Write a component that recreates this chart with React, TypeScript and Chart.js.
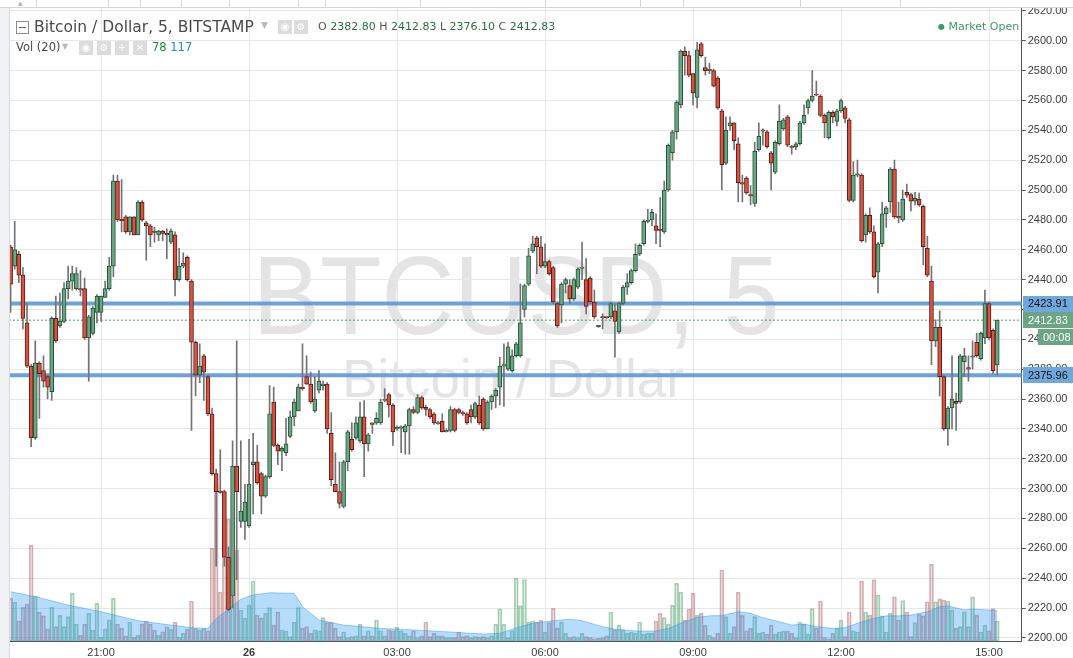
import React, { useEffect, useRef } from "react";
import { Chart, registerables } from "chart.js";

Chart.register(...registerables);

// ---------------- data ----------------
// 5-minute bars, index 0 = 19:10, index 240 = 15:10 (next day)
const OPEN = [
  2462, 2449, 2457, 2443, 2411, 2382, 2334, 2384, 2379, 2375,
  2365, 2414, 2409, 2412, 2434, 2439, 2434, 2434, 2434, 2401,
  2404, 2418, 2418, 2428, 2434, 2449, 2506, 2480, 2482, 2472,
  2482, 2470, 2492, 2478, 2476, 2472.5, 2470, 2472.5, 2471, 2465,
  2470, 2440, 2449, 2455, 2439, 2398, 2376, 2389, 2375, 2350,
  2310, 2298, 2298, 2254, 2228, 2315, 2278, 2278, 2275, 2316,
  2318, 2310, 2295, 2308, 2358, 2329, 2325, 2324, 2335, 2348,
  2352, 2368, 2375, 2370, 2352, 2366, 2369, 2370, 2337, 2303,
  2298, 2288, 2318, 2333, 2334, 2332, 2348, 2330, 2344, 2344,
  2344, 2359, 2363, 2356, 2340, 2340.5, 2338, 2342, 2353, 2351,
  2361, 2354.5, 2353, 2350, 2343.5, 2345, 2338, 2339, 2353, 2353,
  2351, 2350, 2353, 2348, 2356, 2360, 2340, 2358, 2362, 2368,
  2382, 2380, 2379, 2389, 2389, 2420, 2437, 2459, 2468, 2462,
  2449, 2452, 2448, 2424, 2423, 2437, 2436, 2427, 2435, 2447.5,
  2440, 2441, 2425, 2408.5, 2415, 2415, 2415, 2419, 2405, 2424,
  2435, 2438, 2446, 2457, 2464, 2479, 2480, 2476, 2473.5, 2472,
  2500, 2525, 2539, 2557, 2593, 2590, 2578, 2562, 2598, 2582,
  2580, 2580, 2575, 2553, 2518, 2543, 2545, 2531, 2505, 2508,
  2497, 2491, 2527, 2539.5, 2539, 2525, 2512, 2531, 2541, 2549,
  2529, 2529, 2531, 2545, 2555, 2560, 2564, 2563, 2550, 2535,
  2552, 2546, 2553, 2555, 2547, 2493, 2510, 2510, 2470, 2483,
  2472, 2445, 2464, 2484, 2492, 2514, 2482, 2480, 2498.5, 2497,
  2492.5, 2494, 2489, 2461, 2439, 2399, 2408, 2375, 2340, 2354,
  2358.5, 2358, 2385, 2381, 2388, 2398, 2387, 2401, 2424, 2406,
  2382.8,
];
const HIGH = [
  2463, 2479, 2459, 2448, 2424, 2383, 2399, 2385, 2389, 2376,
  2415, 2429, 2431, 2438, 2449, 2449, 2448, 2446, 2441, 2416,
  2422, 2430, 2429, 2439, 2455, 2510, 2510, 2507, 2483, 2482,
  2482, 2493, 2493, 2479, 2477, 2475, 2473, 2473, 2474, 2474,
  2472, 2461, 2458, 2456, 2440, 2399, 2397, 2390, 2376, 2354,
  2313, 2326, 2299, 2261, 2332, 2399, 2332, 2303, 2333, 2337,
  2329, 2311, 2309, 2369, 2368, 2330, 2328, 2347, 2352, 2360,
  2370, 2397, 2389, 2378, 2375, 2379, 2372, 2371, 2351, 2324,
  2318, 2319, 2339, 2344, 2348, 2358, 2359, 2337, 2344, 2351,
  2360, 2367, 2364, 2357, 2342, 2342, 2343, 2354, 2355, 2363,
  2362, 2356, 2354, 2351, 2345, 2350, 2340, 2355, 2354, 2354,
  2352, 2351, 2356, 2358, 2362, 2361, 2359, 2363, 2367, 2388,
  2397, 2398, 2393, 2398, 2437, 2437, 2461, 2469, 2469, 2469,
  2464, 2453, 2449, 2425, 2438, 2441, 2440, 2441, 2448, 2465,
  2454, 2442, 2433, 2409, 2417, 2415, 2425, 2424, 2425, 2436,
  2444, 2447, 2464, 2464, 2480, 2487, 2487, 2484, 2495, 2506,
  2531, 2540, 2560, 2594, 2596, 2593, 2578, 2599, 2599, 2589,
  2585, 2581, 2576, 2554, 2549, 2549, 2545, 2535, 2510, 2509,
  2503, 2532, 2545, 2541, 2540, 2526, 2533, 2557, 2548, 2550,
  2530, 2532, 2546, 2557, 2561, 2580, 2573, 2564, 2551, 2553,
  2553, 2554, 2561, 2556, 2548, 2519, 2520, 2511, 2484, 2488,
  2476, 2465, 2492, 2489, 2515, 2520, 2492, 2500, 2504, 2498,
  2498.5, 2498, 2490, 2469, 2449, 2413, 2419, 2376, 2355, 2389,
  2364, 2390, 2394, 2389, 2399, 2404, 2405, 2433, 2425, 2407,
  2412.83,
];
const LOW = [
  2418, 2447, 2438, 2407, 2381, 2328, 2333, 2347, 2368, 2360,
  2359, 2398, 2408, 2411, 2427, 2433, 2433, 2429, 2400, 2372,
  2403, 2411, 2412, 2428, 2433, 2442, 2479, 2472, 2471, 2470,
  2470, 2470, 2479, 2453, 2462, 2465, 2466, 2466, 2454, 2464,
  2429, 2439, 2448, 2439, 2339, 2362, 2371, 2359, 2349, 2309,
  2248, 2297, 2248, 2218, 2220, 2239, 2274, 2266, 2274, 2283,
  2303, 2283, 2294, 2307, 2328, 2316, 2312, 2322, 2334, 2342,
  2352, 2366, 2370, 2357, 2351, 2364, 2366, 2337, 2302, 2298,
  2287, 2287, 2312, 2325, 2333, 2331, 2308, 2325, 2337, 2343,
  2343, 2358, 2348, 2329, 2339, 2324, 2323, 2323, 2350, 2350,
  2353, 2349, 2347, 2343, 2343, 2338, 2338, 2338, 2338, 2350,
  2349, 2343, 2344, 2347, 2343, 2339, 2340, 2353, 2354, 2356,
  2355, 2379, 2378, 2388, 2388, 2415, 2436, 2458, 2444, 2448,
  2448, 2443, 2424, 2408, 2411, 2431, 2424, 2426, 2434, 2440,
  2417, 2424, 2414, 2408, 2407, 2414, 2414, 2388, 2404, 2423,
  2430, 2437, 2445, 2456, 2463, 2478, 2476, 2464, 2462, 2471,
  2499, 2520, 2534, 2555, 2577, 2576, 2557, 2555, 2589, 2577,
  2578, 2569, 2554, 2500, 2517, 2540, 2527, 2492, 2492, 2497,
  2490, 2489, 2526, 2530, 2528, 2500, 2511, 2530, 2540, 2529,
  2524, 2527, 2530, 2544, 2551, 2559, 2563, 2549, 2535, 2534,
  2545, 2543, 2552, 2545, 2492, 2492, 2509, 2465, 2465, 2471,
  2441, 2431, 2462, 2475, 2485, 2481, 2478, 2479, 2495, 2486,
  2490, 2489, 2450, 2442, 2383, 2395, 2362, 2339, 2329, 2340,
  2339, 2357, 2375, 2372, 2380, 2388, 2386, 2397, 2400, 2377,
  2376.1,
];
const CLOSE = [
  2437, 2460, 2443, 2414, 2382, 2334, 2384, 2377, 2372, 2368,
  2414, 2399, 2412, 2434, 2439, 2444, 2444, 2433, 2401, 2415,
  2421, 2429, 2429, 2434, 2449, 2506, 2480, 2479.5, 2472, 2482,
  2470, 2492, 2480, 2476, 2470, 2471.6, 2472.5, 2471, 2470, 2472.5,
  2440, 2449, 2451, 2440, 2398, 2376, 2382, 2378, 2350, 2310,
  2298, 2297.5, 2254, 2219, 2315, 2298, 2285, 2291, 2303, 2318,
  2304, 2295, 2308, 2350, 2329, 2325, 2327, 2330, 2348, 2358,
  2368, 2367, 2370, 2358, 2360, 2372, 2370, 2340, 2306, 2298,
  2290, 2318, 2338, 2326, 2344, 2348, 2330, 2336, 2343, 2347,
  2358, 2359.5, 2356, 2338, 2341, 2341, 2342, 2353, 2351, 2361,
  2354, 2353, 2348, 2344, 2344, 2338, 2339, 2353, 2339, 2351,
  2350, 2344, 2348, 2357, 2344, 2340, 2358, 2362, 2366, 2382,
  2383, 2395, 2389, 2397, 2411, 2436, 2456, 2464, 2462, 2449,
  2452, 2444, 2425, 2409, 2437, 2440, 2427, 2440, 2447, 2448.2,
  2422, 2425, 2415, 2409, 2414.5, 2414.5, 2424, 2412, 2424, 2435,
  2438, 2446, 2457, 2463, 2479, 2479.7, 2485, 2473, 2473, 2500,
  2530, 2539, 2559, 2593, 2590, 2577, 2565, 2594, 2590, 2580,
  2580.5, 2569.5, 2555, 2517, 2540, 2545, 2533, 2505, 2504, 2498,
  2496, 2526, 2536, 2540, 2529, 2518, 2532, 2546, 2547, 2530,
  2528.5, 2531, 2545, 2550, 2560, 2563, 2563.5, 2550, 2545, 2552,
  2549, 2553, 2560, 2548, 2493, 2510, 2510.5, 2466, 2483, 2472,
  2442, 2464, 2484, 2488, 2514, 2482, 2481.5, 2494, 2496.5, 2492.5,
  2494.5, 2490, 2462, 2443, 2399, 2408, 2375, 2340, 2354, 2360,
  2357, 2389, 2389, 2380, 2389, 2389, 2404, 2424, 2401, 2379,
  2412.83,
];
const VOLUME = [
  166, 151, 78, 131, 144, 374, 175, 112, 98, 47,
  131, 56, 100, 56, 95, 186, 66, 22, 65, 108,
  43, 147, 14, 47, 82, 166, 65, 49, 20, 73,
  14, 22, 66, 78, 66, 43, 22, 36, 55, 46,
  73, 14, 30, 46, 156, 48, 43, 48, 40, 362,
  612, 191, 476, 476, 170, 355, 120, 90, 140, 234,
  101, 90, 108, 130, 62, 113, 44, 39, 17, 73,
  130, 49, 56, 30, 44, 40, 91, 72, 72, 49,
  17, 35, 13, 17, 20, 65, 20, 40, 20, 82,
  40, 20, 44, 40, 53, 40, 30, 20, 40, 13,
  20, 74, 17, 30, 20, 20, 13, 13, 13, 36,
  17, 20, 13, 17, 15, 17, 13, 20, 65, 125,
  65, 13, 40, 245, 137, 240, 74, 78, 74, 82,
  35, 72, 127, 49, 74, 30, 13, 17, 13, 30,
  17, 13, 8, 10, 13, 20, 113, 44, 62, 44,
  30, 35, 30, 74, 27, 30, 30, 78, 108, 91,
  65, 140, 225, 190, 82, 125, 186, 101, 108, 62,
  22, 13, 30, 277, 95, 30, 56, 190, 101, 40,
  49, 95, 30, 35, 27, 62, 27, 35, 39, 39,
  30, 13, 74, 65, 27, 126, 49, 156, 13, 8,
  30, 49, 82, 17, 113, 40, 35, 234, 113, 101,
  240, 179, 98, 35, 108, 172, 82, 158, 113, 17,
  72, 104, 98, 153, 300, 153, 164, 160, 156, 121,
  49, 56, 114, 56, 172, 101, 35, 62, 40, 126,
  78,
];
// Vol (20) moving-average outline, read at these bar indices
const MA_IDX = [
  0, 6, 14, 22, 31, 39, 44, 48, 50, 53, 56, 59, 63, 69, 71, 75, 81, 90, 98, 106,
  115, 119, 124, 127, 132, 136, 139, 144, 147, 152, 157, 160, 164, 167, 170, 173, 177, 180, 183, 187,
  190, 193, 196, 200, 203, 206, 210, 213, 216, 219, 223, 226, 228, 232, 234, 238, 240,
];
const MA_VAL = [
  192, 173, 140, 114, 79, 62, 52, 49, 88, 124, 163, 179, 188, 186, 134, 82, 62, 49, 43, 36,
  27, 30, 56, 69, 79, 85, 79, 56, 46, 39, 39, 49, 75, 92, 98, 99, 114, 108, 91, 75,
  62, 66, 56, 49, 52, 69, 88, 98, 98, 101, 114, 134, 137, 121, 124, 121, 117,
];
const TIME_TICK_IDX = [22, 58, 94, 130, 166, 202, 238];
const TIME_TICK_LABELS = ["21:00", "26", "03:00", "06:00", "09:00", "12:00", "15:00"];
const PRICE_TICKS = [
  2200, 2220, 2240, 2260, 2280, 2300, 2320, 2340, 2360, 2380, 2400,
  2420, 2440, 2460, 2480, 2500, 2520, 2540, 2560, 2580, 2600, 2620,
];
const LEVEL_UPPER = 2423.91;
const LEVEL_LOWER = 2375.96;
const LAST_PRICE = 2412.83;
const COUNTDOWN = "00:08";
const TITLE = "Bitcoin / Dollar, 5, BITSTAMP";
const OHLC_LABELS = ["O", "H", "L", "C"];
const OHLC_VALUES = ["2382.80", "2412.83", "2376.10", "2412.83"];
const VOL_LABEL = "Vol (20)";
const VOL_LAST = "78";
const VOL_MA = "117";
const WATERMARK_1 = "BTCUSD, 5";
const WATERMARK_2 = "Bitcoin / Dollar";
const MARKET_STATUS = "Market Open";

// ---------------- view settings ----------------
const X_MIN = -0.39;
const X_MAX = 245.95;
const Y_MIN = 2197.9;
const Y_MAX = 2627.3;
const VOL_MAX = 2500;

const UP_FILL = "#6ba583";
const DOWN_FILL = "#d75442";
const UP_BORDER = "#225437";
const DOWN_BORDER = "#5b1a13";
const WICK = "#737375";
const AXIS_FONT = '"Liberation Sans", Arial, sans-serif';
const UI_FONT = '"DejaVu Sans", Verdana, sans-serif';
const TOP_SEPARATORS = [36, 108, 140, 181, 229, 298, 325, 420, 545, 640, 683, 800, 900];

const priceLabels = {
  id: "priceLabels",
  afterDraw(chart: any) {
    const { ctx, chartArea } = chart;
    const y = chart.scales.y;
    const x0 = Math.round(chartArea.right) + 1;
    const w = chart.width - x0;
    const box = (val: number, text: string, bg: string, fg: string, dx = 0, dy = 0, bw = w) => {
      const yc = y.getPixelForValue(val) + dy;
      ctx.save();
      ctx.fillStyle = bg;
      ctx.fillRect(x0 + dx, Math.round(yc - 8), bw, 16);
      ctx.fillStyle = fg;
      ctx.font = `11px ${AXIS_FONT}`;
      ctx.textBaseline = "middle";
      ctx.textAlign = "left";
      ctx.fillText(text, x0 + dx + 5, yc + 0.5);
      ctx.restore();
    };
    box(LEVEL_UPPER, LEVEL_UPPER.toFixed(2), "#6fa8dc", "#111", 0);
    box(LEVEL_LOWER, LEVEL_LOWER.toFixed(2), "#6fa8dc", "#111", 0);
    box(LAST_PRICE, LAST_PRICE.toFixed(2), UP_FILL, "#fff", 0);
    box(LAST_PRICE, COUNTDOWN, UP_FILL, "#fff", 15, 17, 35);
  },
};

export default function App() {
  const ref = useRef<HTMLCanvasElement>(null);

  useEffect(() => {
    document.body.style.margin = "0";
    const canvas = ref.current;
    if (!canvas) return;
    const idx = OPEN.map((_, i) => i);
    const up = (i: number) => CLOSE[i] >= OPEN[i];
    const bodies = idx.map((i) => {
      const lo = Math.min(OPEN[i], CLOSE[i]);
      let hi = Math.max(OPEN[i], CLOSE[i]);
      if (hi - lo < 0.8) hi = lo + 0.8;
      return { x: i, y: [lo, hi] };
    });
    const wicks = idx.map((i) => ({ x: i, y: [LOW[i], HIGH[i]] }));
    const vols = idx.map((i) => ({ x: i, y: VOLUME[i] }));
    const ma = MA_IDX.map((x, k) => ({ x, y: MA_VAL[k] }));
    const hline = (v: number) => [
      { x: X_MIN - 1, y: v },
      { x: X_MAX + 1, y: v },
    ];

    const chart = new Chart(canvas, {
      type: "bar",
      data: {
        datasets: [
          {
            type: "bar",
            data: bodies as any,
            backgroundColor: idx.map((i) => (up(i) ? UP_FILL : DOWN_FILL)),
            borderColor: idx.map((i) => (up(i) ? UP_BORDER : DOWN_BORDER)),
            borderWidth: 1,
            borderSkipped: false,
            barThickness: 4,
            grouped: false,
            order: 0,
            yAxisID: "y",
          } as any,
          {
            type: "bar",
            data: wicks as any,
            backgroundColor: WICK,
            borderWidth: 0,
            barThickness: 1,
            grouped: false,
            order: 1,
            yAxisID: "y",
          } as any,
          {
            type: "line",
            data: hline(LEVEL_UPPER),
            borderColor: "rgba(92,152,216,0.9)",
            borderWidth: 4,
            pointRadius: 0,
            order: 2,
            yAxisID: "y",
          } as any,
          {
            type: "line",
            data: hline(LEVEL_LOWER),
            borderColor: "rgba(92,152,216,0.9)",
            borderWidth: 4,
            pointRadius: 0,
            order: 3,
            yAxisID: "y",
          } as any,
          {
            type: "line",
            data: hline(LAST_PRICE),
            borderColor: "#3f9c5f",
            borderWidth: 1,
            borderDash: [2, 2],
            pointRadius: 0,
            order: 4,
            yAxisID: "y",
          } as any,
          {
            type: "line",
            data: ma,
            yAxisID: "yv",
            borderColor: "rgba(33,150,243,0.45)",
            backgroundColor: "rgba(33,150,243,0.33)",
            borderWidth: 1,
            pointRadius: 0,
            fill: "origin",
            tension: 0,
            order: 6,
          } as any,
          {
            type: "bar",
            data: vols as any,
            yAxisID: "yv",
            backgroundColor: idx.map((i) => (up(i) ? "rgba(107,185,131,0.25)" : "rgba(196,120,120,0.25)")),
            borderColor: idx.map((i) => (up(i) ? "rgba(90,160,110,0.5)" : "rgba(170,110,110,0.5)")),
            borderWidth: 1,
            borderSkipped: false,
            barThickness: 4,
            grouped: false,
            order: 7,
          } as any,
        ],
      },
      options: {
        animation: false,
        responsive: true,
        maintainAspectRatio: false,
        events: [],
        layout: { padding: { left: 9, top: 0, right: 0, bottom: 0 } },
        plugins: { legend: { display: false }, tooltip: { enabled: false } },
        scales: {
          x: {
            type: "linear",
            min: X_MIN,
            max: X_MAX,
            offset: false,
            grid: { color: "#e8e8e8", drawTicks: false, offset: false },
            border: { color: "#555", width: 1 },
            ticks: {
              autoSkip: false,
              maxRotation: 0,
              padding: 5,
              color: "#3c3c3c",
              font: (c: any) => ({
                family: AXIS_FONT,
                size: 11,
                weight: c.tick && c.tick.value === TIME_TICK_IDX[1] ? "bold" : "normal",
              }),
              callback: (v: any) => {
                const k = TIME_TICK_IDX.indexOf(Number(v));
                return k >= 0 ? TIME_TICK_LABELS[k] : "";
              },
            },
            afterBuildTicks: (s: any) => {
              s.ticks = TIME_TICK_IDX.map((value) => ({ value }));
            },
            afterFit: (s: any) => {
              s.height = 17;
              s.paddingLeft = 0;
              s.paddingRight = 0;
            },
          } as any,
          y: {
            type: "linear",
            position: "right",
            min: Y_MIN,
            max: Y_MAX,
            grid: { color: "#e8e8e8", tickColor: "#555", tickLength: 4 },
            border: { color: "#555", width: 1 },
            ticks: {
              padding: 2,
              color: "#3c3c3c",
              font: { family: AXIS_FONT, size: 11 },
              callback: (v: any) => Number(v).toFixed(2),
            },
            afterBuildTicks: (s: any) => {
              s.ticks = PRICE_TICKS.map((value) => ({ value }));
            },
            afterFit: (s: any) => {
              s.width = 51.3;
              s.paddingTop = 0;
              s.paddingBottom = 0;
            },
          } as any,
          yv: {
            type: "linear",
            display: false,
            min: 0,
            max: VOL_MAX,
          },
        },
      },
      plugins: [priceLabels],
    });
    return () => chart.destroy();
  }, []);

  const iconBox = (left: number, top: number, glyph: string) => (
    <div
      key={left}
      style={{
        position: "absolute",
        left,
        top,
        width: 14,
        height: 14,
        background: "#dcdcdc",
        color: "#fff",
        fontSize: 10,
        lineHeight: "14px",
        textAlign: "center",
        fontFamily: UI_FONT,
      }}
    >
      {glyph}
    </div>
  );

  return (
    <div
      style={{
        position: "fixed",
        left: 0,
        top: 0,
        width: 1073,
        height: 658,
        background: "#fff",
        overflow: "hidden",
        fontFamily: UI_FONT,
      }}
    >
      {/* watermark */}
      <div
        style={{
          position: "absolute",
          left: 116,
          top: 240,
          width: 800,
          textAlign: "center",
          fontFamily: AXIS_FONT,
          fontSize: 112,
          lineHeight: "112px",
          color: "#e4e4e4",
          transform: "scaleX(0.9)",
          whiteSpace: "nowrap",
        }}
      >
        {WATERMARK_1}
      </div>
      <div
        style={{
          position: "absolute",
          left: 113,
          top: 352,
          width: 800,
          textAlign: "center",
          fontFamily: AXIS_FONT,
          fontSize: 53,
          lineHeight: "53px",
          color: "#e4e4e4",
          whiteSpace: "nowrap",
        }}
      >
        {WATERMARK_2}
      </div>

      <div style={{ position: "absolute", left: 0, top: 0, width: 1073, height: 658 }}>
        <canvas ref={ref} />
      </div>

      {/* top strip (cut-off toolbar) */}
      <div
        style={{
          position: "absolute",
          left: 0,
          top: 0,
          width: 1073,
          height: 7,
          background: "#fff",
          borderBottom: "1px solid #d6d6d6",
        }}
      >
        {TOP_SEPARATORS.map((x) => (
          <div key={x} style={{ position: "absolute", left: x, top: 0, width: 1, height: 7, background: "#d6d6d6" }} />
        ))}
        <div style={{ position: "absolute", left: 18, top: -1, fontSize: 6, color: "#b0b0b0" }}>▲</div>
      </div>
      {/* left strip */}
      <div
        style={{
          position: "absolute",
          left: 0,
          top: 8,
          width: 9,
          height: 650,
          background: "#f1f2f4",
          borderRight: "1px solid #d9d9dd",
        }}
      />

      {/* legend header */}
      <div
        style={{
          position: "absolute",
          left: 16,
          top: 21,
          width: 11,
          height: 11,
          border: "1px solid #8c8c8c",
          background: "#fff",
        }}
      >
        <div style={{ position: "absolute", left: 2, top: 5, width: 7, height: 1, background: "#666" }} />
      </div>
      <div
        style={{
          position: "absolute",
          left: 34,
          top: 19,
          fontSize: 15.5,
          lineHeight: "16px",
          color: "#4a4a4a",
          whiteSpace: "nowrap",
        }}
      >
        {TITLE}
      </div>
      <div style={{ position: "absolute", left: 261, top: 20, fontSize: 9, color: "#b8b8b8" }}>▼</div>
      {iconBox(278, 20, "◉")}
      {iconBox(294, 20, "⚙")}
      <div
        style={{
          position: "absolute",
          left: 318,
          top: 21,
          fontSize: 11,
          lineHeight: "12px",
          whiteSpace: "nowrap",
          color: "#555",
        }}
      >
        {OHLC_LABELS.map((l, k) => (
          <span key={l}>
            {l}{" "}
            <span style={{ color: "#2a6e3f" }}>{OHLC_VALUES[k]}</span>{" "}
          </span>
        ))}
      </div>

      <div
        style={{
          position: "absolute",
          left: 16,
          top: 41,
          fontSize: 11.5,
          lineHeight: "13px",
          color: "#4a4a4a",
          whiteSpace: "nowrap",
        }}
      >
        {VOL_LABEL}
      </div>
      <div style={{ position: "absolute", left: 62, top: 42, fontSize: 8, color: "#b8b8b8" }}>▼</div>
      {iconBox(79, 41, "◉")}
      {iconBox(97, 41, "⚙")}
      {iconBox(115, 41, "+")}
      {iconBox(133, 41, "✕")}
      <div
        style={{
          position: "absolute",
          left: 152,
          top: 41,
          fontSize: 11.5,
          lineHeight: "13px",
          whiteSpace: "nowrap",
        }}
      >
        <span style={{ color: "#1e8a34" }}>{VOL_LAST}</span>{" "}
        <span style={{ color: "#1e88e5" }}>{VOL_MA}</span>
      </div>

      <div
        style={{
          position: "absolute",
          left: 938,
          top: 20,
          fontSize: 11,
          lineHeight: "13px",
          color: "#3b9b63",
          whiteSpace: "nowrap",
        }}
      >
        <span style={{ fontSize: 8, verticalAlign: "1px" }}>●</span> {MARKET_STATUS}
      </div>
    </div>
  );
}
